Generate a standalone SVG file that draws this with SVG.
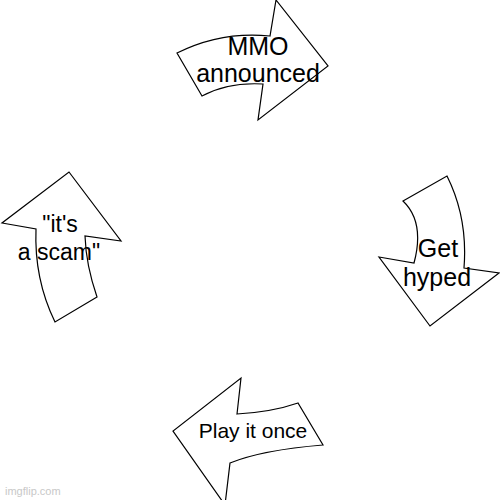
<svg xmlns="http://www.w3.org/2000/svg" width="500" height="500" viewBox="0 0 500 500">
<style>
.arrow{fill:#fff;stroke:#000;stroke-width:1.2;stroke-linejoin:miter}
.lbl{font-family:"Liberation Sans",Arial,sans-serif;fill:#000;text-anchor:middle}
.wm{font-family:"Liberation Sans",Arial,sans-serif;fill:#c8c8c8;font-size:11px}
</style>
<rect width="500" height="500" fill="#fff"/>
<g id="connectors"></g>
<g id="mmo-announced">
<path class="arrow" d="M177,53 Q221,31 270,36 L276,0 L328,66 L258,120 L263,84 Q228,82 202,96 Z"/>
<text class="lbl" font-size="25" x="258" y="55">MMO</text>
<text class="lbl" font-size="25" x="258" y="82">announced</text>
</g>
<g id="get-hyped">
<path class="arrow" d="M403,201 L447,176 Q468,218 464,268 L499,273 L430,326 L379,257 L414,263 Q425,222 403,201 Z"/>
<text class="lbl" font-size="25" x="438" y="257">Get</text>
<text class="lbl" font-size="25" x="437" y="286">hyped</text>
</g>
<g id="play-it-once">
<path class="arrow" d="M241,378 L237,414 Q272,412 298,403 L323,445 Q262,450 230,463 L225,505 L173,431 Z"/>
<text class="lbl" font-size="21" x="253" y="438">Play it once</text>
</g>
<g id="its-a-scam">
<path class="arrow" d="M69,172 L121,241 L85,236 Q86,265 97,297 L55,322 Q34,279 36,229 L2,223 Z"/>
<text class="lbl" font-size="23" x="60" y="232">"it's</text>
<text class="lbl" font-size="23" x="59" y="260">a scam"</text>
</g>
<text class="wm" x="5" y="495">imgflip.com</text>
</svg>
